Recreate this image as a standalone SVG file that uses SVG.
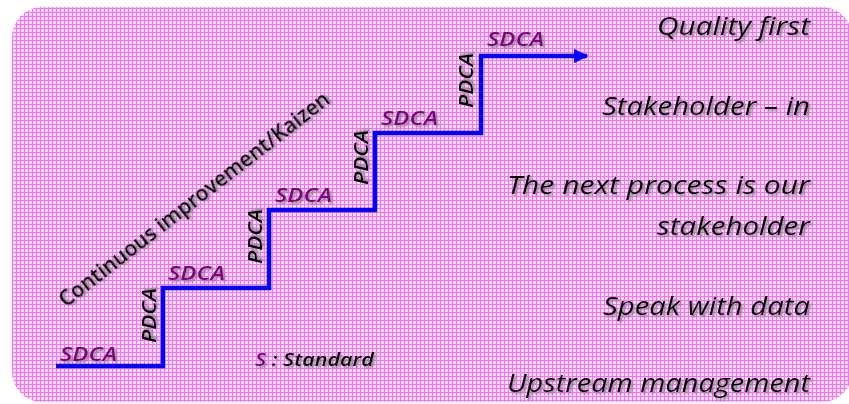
<svg xmlns="http://www.w3.org/2000/svg" width="849" height="404" viewBox="0 0 849 404">
<style>
.lbl{font-family:"Open Sans","Noto Sans","Liberation Sans",sans-serif;font-style:italic;filter:url(#sh)}
.sdca{font-size:19px;font-weight:600;fill:#800080}
.pdca{font-size:19px;font-weight:600;fill:#000}
.side{font-size:25px;fill:#000;text-anchor:end}
.kz{font-family:"Open Sans","Noto Sans","Liberation Sans",sans-serif;font-size:21px;font-weight:600;fill:#000;filter:url(#sh)}
.stair{fill:none;stroke:#0000ff;stroke-width:4.5;stroke-linejoin:miter}
</style>
<defs>
<pattern id="grid" width="4" height="4" patternUnits="userSpaceOnUse">
<rect width="4" height="4" fill="#fed4fa"/>
<rect x="0" y="0" width="1" height="4" fill="#f075f0"/>
<rect x="0" y="0" width="4" height="1" fill="#f075f0"/>
<rect x="2" y="2" width="1" height="1" fill="#ffffff"/>
</pattern>
<filter id="sh" x="-10%" y="-30%" width="130%" height="170%">
<feDropShadow dx="2" dy="2" stdDeviation="0.8" flood-color="#777777" flood-opacity="0.8"/>
</filter>
<marker id="arr" viewBox="0 0 10 10" refX="9" refY="5" markerWidth="3.2" markerHeight="3.2" orient="auto" markerUnits="strokeWidth">
<path d="M0 0 L10 5 L0 10 Z" fill="#0000ff"/>
</marker>
</defs>
<rect width="849" height="404" fill="#ffffff"/>
<path id="bg" d="M42 7 H822 A30 30 0 0 1 852 37 V372 A30 30 0 0 1 822 402 H42 A30 30 0 0 1 12 372 V37 A30 30 0 0 1 42 7 Z" fill="url(#grid)"/>
<g id="connectors">
<path class="stair" d="M56 366 H163 V288 H269 V210 H375 V133 H481 V56 H587" marker-end="url(#arr)"/>
</g>
<g id="sdca1"><text class="lbl sdca" x="60" y="361" textLength="57" lengthAdjust="spacingAndGlyphs">SDCA</text></g>
<g id="pdca1"><text class="lbl pdca" transform="translate(156,343) rotate(-90)" textLength="55" lengthAdjust="spacingAndGlyphs">PDCA</text></g>
<g id="sdca2"><text class="lbl sdca" x="168" y="280" textLength="57" lengthAdjust="spacingAndGlyphs">SDCA</text></g>
<g id="pdca2"><text class="lbl pdca" transform="translate(262,264) rotate(-90)" textLength="55" lengthAdjust="spacingAndGlyphs">PDCA</text></g>
<g id="sdca3"><text class="lbl sdca" x="275" y="202" textLength="57" lengthAdjust="spacingAndGlyphs">SDCA</text></g>
<g id="pdca3"><text class="lbl pdca" transform="translate(368,185) rotate(-90)" textLength="55" lengthAdjust="spacingAndGlyphs">PDCA</text></g>
<g id="sdca4"><text class="lbl sdca" x="381" y="125" textLength="57" lengthAdjust="spacingAndGlyphs">SDCA</text></g>
<g id="pdca4"><text class="lbl pdca" transform="translate(473,108) rotate(-90)" textLength="55" lengthAdjust="spacingAndGlyphs">PDCA</text></g>
<g id="sdca5"><text class="lbl sdca" x="487" y="46" textLength="57" lengthAdjust="spacingAndGlyphs">SDCA</text></g>
<g id="kaizen"><text class="kz" transform="translate(66,308) rotate(-37.8)" textLength="336" lengthAdjust="spacingAndGlyphs">Continuous improvement/Kaizen</text></g>
<g id="standard"><text class="lbl" x="255" y="366" font-size="18" font-weight="600" textLength="119" lengthAdjust="spacingAndGlyphs"><tspan fill="#800080">S</tspan><tspan fill="#000"> : Standard</tspan></text></g>
<g id="quality"><text class="lbl side" x="810" y="35" textLength="153" lengthAdjust="spacingAndGlyphs">Quality first</text></g>
<g id="stakein"><text class="lbl side" x="810" y="115" textLength="208" lengthAdjust="spacingAndGlyphs">Stakeholder – in</text></g>
<g id="nextprocess"><text class="lbl side" x="810" y="194" textLength="303" lengthAdjust="spacingAndGlyphs">The next process is our</text>
<text class="lbl side" x="810" y="235" textLength="153" lengthAdjust="spacingAndGlyphs">stakeholder</text></g>
<g id="speak"><text class="lbl side" x="810" y="315" textLength="207" lengthAdjust="spacingAndGlyphs">Speak with data</text></g>
<g id="upstream"><text class="lbl side" x="810" y="392" textLength="303" lengthAdjust="spacingAndGlyphs">Upstream management</text></g>
</svg>
